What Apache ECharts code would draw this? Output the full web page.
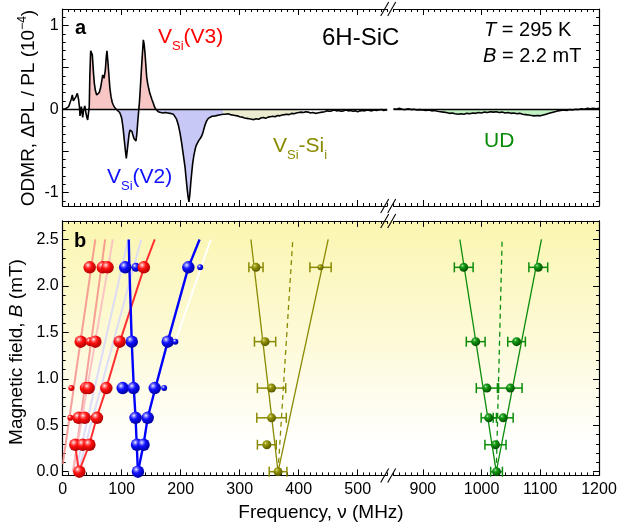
<!DOCTYPE html>
<html><head><meta charset="utf-8">
<script src="https://cdn.jsdelivr.net/npm/echarts@6/dist/echarts.min.js"></script>
<style>html,body{margin:0;padding:0;background:#fff}#c{width:619px;height:527px}</style>
</head><body><div id="c"></div>
<script>
// ================= DATA =================
// Panel a: ODMR spectrum [frequency MHz, dPL/PL x1e-4]
const specLeft = [
[0,0],[4,0],[7,0.01],[10,0.03],[12.4,0.05],[14.5,0.12],[16.3,0.17],[18,0.1],[19.5,0.09],[21,0.12],[22.5,0.15],[24.8,0.19],[26,0.15],[27,0.11],[28.5,0.02],[29.3,-0.08],[30.5,-0.02],[31.6,0.03],[32.8,-0.04],[33.9,-0.1],[35,-0.03],[36,-0.01],[37.5,0.04],[38.5,0.05],[39.5,-0.05],[41,-0.1],[42.3,-0.13],[43.5,-0.06],
[45,0.03],[46,0.4],[47.4,0.7],[49,0.68],[50.2,0.65],[52,0.45],[53.6,0.31],[55.5,0.22],[57.6,0.17],[60,0.18],[62,0.2],[64,0.25],[65.5,0.31],[67.8,0.41],[69,0.39],[70,0.37],[71.2,0.42],[72.3,0.47],[73.8,0.62],[75,0.7],[76.8,0.55],[78.5,0.39],[80,0.25],[81.9,0.15],[84,0.08],[85.8,0.05],[88,0.02],[90.3,0],
[92,-0.01],[94.3,-0.02],[96.5,-0.04],[98.3,-0.07],[100,-0.11],[101.7,-0.19],[103,-0.27],[104.4,-0.37],[106,-0.48],[107.8,-0.59],[109.3,-0.5],[110.7,-0.41],[112.5,-0.3],[114,-0.25],[115.7,-0.23],[117.5,-0.27],[119,-0.31],[120.8,-0.35],[122.5,-0.37],[124.2,-0.38],[125.6,-0.3],[127,-0.17],[129,0],
[129.9,0.07],[131.3,0.22],[132.7,0.39],[134.5,0.6],[136.7,0.83],[138,0.78],[139.5,0.67],[141,0.52],[142.3,0.39],[144,0.31],[145.7,0.25],[147.7,0.19],[149.7,0.15],[151.5,0.11],[153.6,0.07],[155.5,0.03],[157.6,0],
[160,-0.015],[162,-0.03],[164,-0.025],[166,-0.04],[168,-0.035],[170,-0.045],[172,-0.03],[174,-0.04],[176,-0.035],[178,-0.045],[180,-0.04],[182,-0.05],[184.7,-0.045],[187.5,-0.06],[190.3,-0.08],[193,-0.12],[196,-0.19],[199,-0.29],[201.7,-0.41],[204.5,-0.55],[207.3,-0.69],[209.3,-0.84],[211.2,-0.97],[212.5,-1.05],[214,-1.11],[215.5,-1.02],[217,-0.89],[218.7,-0.76],[220.3,-0.65],[222.2,-0.56],[224.2,-0.49],[226,-0.44],[228.1,-0.41],[230.3,-0.38],[232.7,-0.37],[235,-0.33],[237.3,-0.29],[239.2,-0.24],[241.2,-0.19],[244,-0.14],[246.8,-0.11],[250,-0.09],[253,-0.085],[256,-0.075],[259,-0.08],[262,-0.065],[265,-0.07],[268,-0.055],[272,-0.06],
[276,-0.06],[280,-0.055],[284,-0.065],[288,-0.07],[292,-0.075],[296,-0.08],[300,-0.09],[304,-0.095],[308,-0.105],[312,-0.11],[316,-0.115],[320,-0.12],[324,-0.125],[328,-0.115],[332,-0.12],[336,-0.105],[340,-0.1],[344,-0.11],[348,-0.095],[352,-0.09],[356,-0.085],[360,-0.09],[364,-0.075],[368,-0.08],[372,-0.07],[376,-0.065],[380,-0.06],[384,-0.065],[388,-0.05],[392,-0.055],[396,-0.045],[400,-0.04],
[404,-0.035],[408,-0.04],[412,-0.03],[416,-0.035],[420,-0.045],[424,-0.04],[428,-0.05],[432,-0.045],[436,-0.04],[440,-0.035],[444,-0.03],[448,-0.02],[452,-0.025],[456,-0.02],[460,-0.01],[464,-0.02],[468,-0.015],[472,-0.025],[476,-0.02],[480,-0.01],[484,-0.02],[488,-0.015],[492,-0.025],[496,-0.02],[500,-0.03],[504,-0.02],[508,-0.015],[512,-0.02],[516,-0.01],[520,-0.015],[524,-0.02],[528,-0.01],[532,-0.015],[536,-0.01],[540,-0.005],[544,-0.015],[548,-0.01],[550,-0.01]
];
const specRight = [
[850,0.005],[855,0],[860,0.01],[865,0],[870,-0.005],[875,0.005],[880,-0.005],[885,0],[890,-0.01],[895,-0.005],[900,-0.01],[905,-0.015],[910,-0.01],[915,-0.02],[920,-0.015],[925,-0.025],[930,-0.03],[935,-0.035],[940,-0.04],[945,-0.05],[950,-0.045],[955,-0.055],[960,-0.06],[965,-0.055],[970,-0.06],[975,-0.05],[980,-0.055],[985,-0.045],[990,-0.05],[995,-0.04],[1000,-0.045],[1005,-0.035],[1010,-0.04],[1015,-0.03],[1020,-0.035],[1025,-0.03],[1030,-0.04],[1035,-0.035],[1040,-0.045],[1045,-0.04],[1050,-0.05],[1055,-0.045],[1060,-0.055],[1065,-0.05],[1070,-0.06],[1075,-0.065],[1080,-0.07],[1085,-0.075],[1090,-0.08],[1095,-0.075],[1100,-0.08],[1105,-0.07],[1110,-0.06],[1115,-0.05],[1120,-0.04],[1125,-0.03],[1130,-0.02],[1135,-0.015],[1140,-0.01],[1145,-0.015],[1150,-0.005],[1155,-0.01],[1160,0],[1165,-0.005],[1170,0.005],[1175,0],[1180,0.01],[1185,0.005],[1190,0.01],[1195,0.005],[1200,0.01]
];
// Shaded frequency ranges per defect (MHz)
const v3Ranges = [[45,90.3],[129,157.6]];
const v2Ranges = [[90.3,129],[157.6,272]];
const vsiSiRanges = [[272,400]];
const udRanges = [[928,1128]];

// Panel b: resonance points [frequency MHz, B mT, relative amplitude 1..3]
const v3Points = [[28.2,0,3],[21.4,0.29,3],[33.9,0.29,3],[45.2,0.29,3],[12.9,0.58,1],[27,0.58,3],[37.2,0.58,3],[58,0.58,3],[14.6,0.9,1],[39.5,0.9,3],[44,0.9,3],[73.9,0.9,3],[30.5,1.4,3],[46,1.4,2],[55.3,1.4,3],[96.5,1.4,3],[45.7,2.2,3],[68,2.2,3],[76,2.2,3],[137.5,2.2,3]];
const v2Points = [[127.5,0,3],[126,0.29,3],[137,0.29,3],[123.5,0.58,3],[144,0.58,3],[101.7,0.9,3],[120,0.9,3],[156,0.9,3],[172,0.9,1],[117,1.4,3],[178,1.4,3],[191,1.4,1],[106,2.2,3],[124,2.2,2],[213,2.2,3],[233,2.2,1]];
// [frequency, B, half error MHz, relative amplitude]
const vsiSiPoints = [[365,0,15,2],[346,0.29,16,2],[354,0.58,25,2],[354,0.9,24,2],[343,1.4,18,2],[327.6,2.2,12,2],[437,2.2,18,1]];
const udPoints = [[1025.5,0,10,2],[1023.7,0.29,18,2],[1012.3,0.58,13,2],[1036.8,0.58,17,2],[1009,0.9,18,2],[1049,0.9,20,2],[990,1.4,16,2],[1059.6,1.4,15,2],[969.6,2.2,16,2],[1096.6,2.2,16,2]];

// Fit lines [frequency, B]
const v3Fit = [[27.6,0],[45,0.29],[57.6,0.58],[74,0.9],[97,1.4],[138,2.2],[156,2.5]];
const v3FitBranch = [[27.6,0],[21,0.29]];
const v3PaleFits = [[[0,0.08],[55.3,2.5]],[[18,0],[72,2.5]]];
const v3PinkFits = [[[17,0],[85,2.5]]];
const v2PaleFits = [[[22,0],[111,2.5]],[[26,0],[133,2.5]]];
const v2Fit1 = [[127.5,0],[125.5,0.29],[123.5,0.58],[120.5,0.9],[117,1.4],[113,2.2],[112,2.5]];
const v2Fit2 = [[127.5,0],[137,0.29],[144,0.58],[157,0.9],[178,1.4],[213,2.2],[232,2.5]];
const v2WhiteFit = [[188,1.35],[251,2.5]];
const vsiSiFitL = [[365,0],[319,2.5]];
const vsiSiFitR = [[365,0],[450,2.5]];
const vsiSiFitC = [[365,0],[390,2.5]];
const udFitL = [[1025,0],[963,2.5]];
const udFitR = [[1025,0],[1102,2.5]];
const udFitC = [[1025,0],[1035,2.5]];

// Axes
const xRangeLeft = [0,550], xRangeRight = [850,1200];
const xTicksLeft = [0,100,200,300,400,500];
const xTicksRight = [900,1000,1100,1200];
const yRangeA = [-1.16,1.2], yTicksA = [-1,-0.5,0,0.5,1], yLabelsA = [-1,0,1];
const yRangeB = [-0.04,2.7], yTicksB = [0,0.5,1,1.5,2,2.5];

// ================= LAYOUT / STYLE =================
const FONT = '"Liberation Sans", Arial, Helvetica, sans-serif';
const GL = 62.7, GWL = 324.5, GR = 393.5, GWR = 205.5;
const TA = 9, HA = 197, TB = 220.9, HB = 254.5;
const C = {red:'#ff0000', blue:'#1010ff', olive:'#8a8a00', green:'#0a8c0a'};
const SIZE = {1:6, 2:9, 3:12.5};

function steps(a,b,s){const r=[];for(let i=0;a+i*s<=b+1e-9;i++)r.push(+(a+i*s).toFixed(4));return r;}

const grids = [
  {left:GL,top:TA,width:GWL,height:HA},
  {left:GR,top:TA,width:GWR,height:HA},
  {left:GL,top:TB,width:GWL,height:HB},
  {left:GR,top:TB,width:GWR,height:HB}
].map(g=>Object.assign(g,{containLabel:false,outerBoundsMode:'none',show:false}));

const panels = [
  {xr:xRangeLeft, xt:xTicksLeft, xlab:false, yr:yRangeA, yt:yTicksA, ylab:yLabelsA, yminor:steps(-1.1,1.2,0.1), side:'left', fmt:v=>String(v)},
  {xr:xRangeRight, xt:xTicksRight, xlab:false, yr:yRangeA, yt:yTicksA, ylab:null, yminor:steps(-1.1,1.2,0.1), side:'right'},
  {xr:xRangeLeft, xt:xTicksLeft, xlab:true, yr:yRangeB, yt:yTicksB, ylab:yTicksB, yminor:steps(0,2.7,0.1), side:'left', fmt:v=>v.toFixed(1)},
  {xr:xRangeRight, xt:xTicksRight, xlab:true, yr:yRangeB, yt:yTicksB, ylab:null, yminor:steps(0,2.7,0.1), side:'right'}
];

const xAxis = [], yAxis = [];
panels.forEach((p,g)=>{
  const xminor = steps(p.xr[0],p.xr[1],10);
  ['bottom','top'].forEach(pos=>{
    [true,false].forEach(major=>{
      xAxis.push({gridIndex:g,type:'value',min:p.xr[0],max:p.xr[1],position:pos,
        axisLine:{show:major,onZero:false,lineStyle:{color:'#000',width:1.2}},
        axisTick:{show:true,inside:true,length:major?6:3,customValues:major?p.xt:xminor,lineStyle:{color:'#000',width:1}},
        axisLabel:{show:major&&pos==='bottom'&&p.xlab,customValues:p.xt,fontSize:16,color:'#000',fontFamily:FONT,margin:6,formatter:v=>String(v)},
        splitLine:{show:false},silent:true});
    });
  });
  [true,false].forEach(major=>{
    yAxis.push({gridIndex:g,type:'value',min:p.yr[0],max:p.yr[1],position:p.side,
      axisLine:{show:major,onZero:false,lineStyle:{color:'#000',width:1.2}},
      axisTick:{show:true,inside:true,length:major?6:3,customValues:major?p.yt:p.yminor,lineStyle:{color:'#000',width:1}},
      axisLabel:{show:major&&!!p.ylab,customValues:p.ylab||p.yt,fontSize:16,color:'#000',fontFamily:FONT,margin:4,formatter:p.fmt||(v=>String(v))},
      splitLine:{show:false},silent:true});
  });
});
const XI = g=>4*g, YI = g=>2*g;

function sphere(hi,mid,base,dark){
  return {type:'radial',x:0.36,y:0.32,r:0.68,colorStops:[{offset:0,color:hi},{offset:0.16,color:mid},{offset:0.45,color:base},{offset:1,color:dark}]};
}
const series = [];
function fillSeries(g, data, ranges, color){
  ranges.forEach(r=>{
    series.push({type:'line',xAxisIndex:XI(g),yAxisIndex:YI(g),data:data.filter(d=>d[0]>=r[0]&&d[0]<=r[1]),
      showSymbol:false,symbol:'none',lineStyle:{width:0},areaStyle:{color,opacity:1,origin:0},silent:true,z:1});
  });
}
fillSeries(0,specLeft,v3Ranges,'#f9c6c6');
fillSeries(0,specLeft,v2Ranges,'#c8c8f7');
fillSeries(0,specLeft,vsiSiRanges,'#ebebd2');
fillSeries(1,specRight,udRanges,'#c2f0c2');
[[0,specLeft],[1,specRight]].forEach(([g,d])=>{
  series.push({type:'line',xAxisIndex:XI(g),yAxisIndex:YI(g),data:d,showSymbol:false,symbol:'none',
    lineStyle:{color:'#000',width:1.6},silent:true,z:3,
    markLine:{silent:true,symbol:'none',label:{show:false},lineStyle:{color:'#000',width:1.3,type:'solid'},data:[{yAxis:0}],animation:false}});
});

function fit(g,data,color,width,type,z){
  series.push({type:'line',xAxisIndex:XI(g),yAxisIndex:YI(g),data,showSymbol:false,symbol:'none',
    lineStyle:{color,width,type:type||'solid'},silent:true,z:z||2});
}
v3PaleFits.forEach(d=>fit(2,d,'rgba(244,130,130,0.75)',2));
v3PinkFits.forEach(d=>fit(2,d,'rgba(250,190,195,0.9)',2));
v2PaleFits.forEach(d=>fit(2,d,'rgba(215,215,250,0.85)',2));
fit(2,v2WhiteFit,'#ffffff',2);
fit(2,v3Fit,'#ff3030',2);
fit(2,v3FitBranch,'#ff3030',2);
fit(2,v2Fit1,'#0000ff',2.4);
fit(2,v2Fit2,'#0000ff',2.4);
fit(2,vsiSiFitL,C.olive,1.3);
fit(2,vsiSiFitR,C.olive,1.3);
fit(2,vsiSiFitC,C.olive,1.3,[5,4]);
fit(3,udFitL,C.green,1.3);
fit(3,udFitR,C.green,1.3);
fit(3,udFitC,C.green,1.3,[5,4]);

function errBars(g,data,color){
  series.push({type:'custom',xAxisIndex:XI(g),yAxisIndex:YI(g),data,encode:{x:0,y:1},silent:true,z:4,
    renderItem:(params,api)=>{
      const f=api.value(0),b=api.value(1),e=api.value(2);
      const a=api.coord([f-e,b]),c=api.coord([f+e,b]),h=5;
      const st={stroke:color,lineWidth:1.5};
      return {type:'group',children:[
        {type:'line',shape:{x1:a[0],y1:a[1],x2:c[0],y2:c[1]},style:st},
        {type:'line',shape:{x1:a[0],y1:a[1]-h,x2:a[0],y2:a[1]+h},style:st},
        {type:'line',shape:{x1:c[0],y1:c[1]-h,x2:c[0],y2:c[1]+h},style:st}]};
    }});
}
errBars(2,vsiSiPoints,C.olive);
errBars(3,udPoints,C.green);

function dots(g,data,fill,sizeIdx){
  series.push({type:'scatter',xAxisIndex:XI(g),yAxisIndex:YI(g),data,symbol:'circle',
    symbolSize:v=>SIZE[v[sizeIdx]],itemStyle:{color:fill,opacity:1},silent:true,z:5});
}
dots(2,v2Points,sphere('#ffffff','#8a8aff','#1010ff','#0000a0'),2);
dots(2,v3Points,sphere('#ffffff','#ff8a8a','#ff1010','#b00000'),2);
dots(2,vsiSiPoints,sphere('#f4f4c0','#b0b030','#8a8a00','#5a5a00'),3);
dots(3,udPoints,sphere('#d8ffd8','#40b040','#0a8c0a','#045004'),3);

// ================= DECORATION =================
const graphic = [];
graphic.push({type:'rect',z:-10,shape:{x:GL,y:TB,width:GR+GWR-GL,height:HB},
  style:{fill:{type:'linear',x:0,y:0,x2:0,y2:1,colorStops:[{offset:0,color:'#fbf6b0'},{offset:0.5,color:'#fdfadb'},{offset:0.88,color:'#ffffff'},{offset:1,color:'#ffffff'}]}}});
const bx = GL+GWL;
[TA,TA+HA,TB,TB+HB].forEach(y=>{
  [bx-2.5,bx+4.5].forEach(cx=>{
    graphic.push({type:'line',z:10,shape:{x1:cx-4,y1:y+7,x2:cx+4,y2:y-7},style:{stroke:'#000',lineWidth:1.1}});
  });
});
function txt(x,y,text,fs,color,extra){
  return Object.assign({type:'text',x,y,z:20,style:Object.assign({text,fontSize:fs,fontFamily:FONT,fill:color,
    align:'left',verticalAlign:'middle',textAlign:'left',textVerticalAlign:'middle'},extra||{})});
}
function richLabel(x,y,text,color,fs,subFs){
  return {type:'text',x,y,z:20,style:{text,fill:color,fontFamily:FONT,align:'left',verticalAlign:'top',textAlign:'left',textVerticalAlign:'top',
    rich:{v:{fontSize:fs,lineHeight:30,fontFamily:FONT,fill:color},
          s:{fontSize:subFs,lineHeight:12,verticalAlign:'bottom',fontFamily:FONT,fill:color}}}};
}
graphic.push(txt(75,28.1,'a',20,'#000',{fontWeight:'bold'}));
graphic.push(txt(74,241,'b',20,'#000',{fontWeight:'bold'}));
graphic.push(richLabel(158,22.6,'{v|V}{s|Si}{v|(V3)}',C.red,21,13));
graphic.push(richLabel(107,162.6,'{v|V}{s|Si}{v|(V2)}',C.blue,21,13));
graphic.push(richLabel(273,131.6,'{v|V}{s|Si}{v|-Si}{s|i}',C.olive,21,13));
graphic.push(txt(484,141.7,'UD',21,C.green));
graphic.push(txt(322,38.7,'6H-SiC',24,'#000'));
graphic.push({type:'text',x:484,y:18.1,z:20,style:{text:'{i|T}{n| = 295 K}',fill:'#000',align:'left',verticalAlign:'top',textAlign:'left',textVerticalAlign:'top',
  rich:{i:{fontSize:20,lineHeight:24,fontStyle:'italic',fontFamily:FONT,fill:'#000'},n:{fontSize:20,lineHeight:24,fontFamily:FONT,fill:'#000'}}}});
graphic.push({type:'text',x:483,y:44.1,z:20,style:{text:'{i|B}{n| = 2.2 mT}',fill:'#000',align:'left',verticalAlign:'top',textAlign:'left',textVerticalAlign:'top',
  rich:{i:{fontSize:20,lineHeight:24,fontStyle:'italic',fontFamily:FONT,fill:'#000'},n:{fontSize:20,lineHeight:24,fontFamily:FONT,fill:'#000'}}}});
// axis titles
graphic.push({type:'text',x:29,y:108,rotation:Math.PI/2,z:20,style:{text:'{n|ODMR, ΔPL / PL (10}{s|−4}{n|)}',fill:'#000',
  align:'center',verticalAlign:'middle',textAlign:'center',textVerticalAlign:'middle',
  rich:{n:{fontSize:19,lineHeight:24,fontFamily:FONT,fill:'#000'},s:{fontSize:12,lineHeight:14,verticalAlign:'top',fontFamily:FONT,fill:'#000'}}}});
graphic.push({type:'text',x:17,y:352,rotation:Math.PI/2,z:20,style:{text:'{n|Magnetic field, }{i|B}{n| (mT)}',fill:'#000',
  align:'center',verticalAlign:'middle',textAlign:'center',textVerticalAlign:'middle',
  rich:{n:{fontSize:19,lineHeight:24,fontFamily:FONT,fill:'#000'},i:{fontSize:19,lineHeight:24,fontStyle:'italic',fontFamily:FONT,fill:'#000'}}}});
graphic.push(txt(321,512.4,'Frequency, ν (MHz)',19,'#000',{align:'center',textAlign:'center'}));

const chart = echarts.init(document.getElementById('c'),null,{renderer:'canvas'});
chart.setOption({animation:false,backgroundColor:'#fff',grid:grids,xAxis,yAxis,series,graphic:{elements:graphic}});
</script></body></html>
